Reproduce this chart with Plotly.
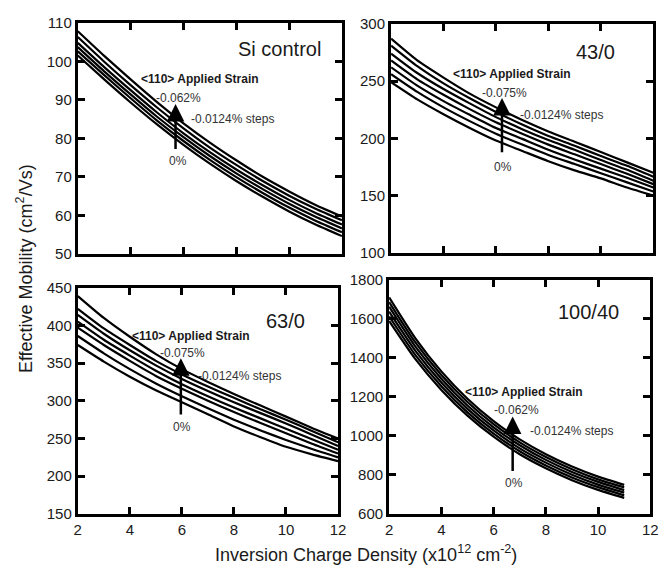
import plotly.graph_objects as go

# ---------------- data ----------------
x_full = [2, 3, 4, 5, 6, 7, 8, 9, 10, 11, 12]
x_short = [2, 3, 4, 5, 6, 7, 8, 9, 10, 11]
x_ticks = [2, 4, 6, 8, 10, 12]

# Si control (0% ... -0.062%, -0.0124% steps)
si_0 = [101.5, 95.3, 89.3, 83.6, 78.3, 73.4, 68.9, 64.8, 61.0, 57.6, 54.6]
si_1 = [102.6, 96.4, 90.4, 84.6, 79.3, 74.4, 69.9, 65.8, 62.0, 58.6, 55.6]
si_2 = [103.7, 97.4, 91.4, 85.6, 80.3, 75.4, 70.9, 66.8, 63.0, 59.6, 56.6]
si_3 = [104.8, 98.5, 92.5, 86.7, 81.3, 76.4, 71.9, 67.8, 64.0, 60.6, 57.6]
si_4 = [106.3, 99.9, 93.8, 88.0, 82.6, 77.6, 73.1, 68.9, 65.1, 61.7, 58.7]
si_5 = [107.8, 101.4, 95.3, 89.4, 83.9, 78.9, 74.3, 70.0, 66.2, 62.7, 59.7]

# 43/0 (0% ... -0.075%)
s43_0 = [249, 234, 221, 209, 198, 189, 180, 172, 165, 157, 150]
s43_1 = [256, 240.5, 227, 215, 204, 194.5, 185.5, 177.5, 169.5, 161.5, 153.5]
s43_2 = [262, 246, 232.5, 220.5, 209, 199.5, 190, 181.5, 173.5, 165.5, 157]
s43_3 = [268, 251.5, 238, 225.5, 214, 204, 194.5, 186, 177.5, 169, 160]
s43_4 = [274, 257, 243, 230.5, 218.5, 208, 198.5, 190, 181, 172.5, 163]
s43_5 = [281, 263, 248, 235, 223, 212, 202, 193.5, 184.5, 176, 166.5]
s43_6 = [287, 268, 253, 239, 227, 216, 206, 197, 188, 179, 170]

# 63/0 (0% ... -0.075%)
s63_0 = [374, 352, 332, 314, 298, 282, 266, 252, 239, 229, 220]
s63_1 = [386, 363, 342, 323, 306, 290, 275, 261, 248, 236, 225]
s63_2 = [397, 374, 353, 333, 316, 300, 285, 271, 257, 243, 230]
s63_3 = [405, 381, 360, 340, 322, 306, 291, 277, 263, 249, 235]
s63_4 = [414, 389, 367, 347, 329, 313, 298, 284, 270, 255, 240]
s63_5 = [422, 396, 374, 353, 335, 319, 304, 289, 275, 260, 245]
s63_6 = [439, 410, 385, 362, 342, 325, 309, 294, 279, 264, 250]

# 100/40 (0% ... -0.062%)
s100_0 = [1590, 1395, 1236, 1104, 996, 906, 834, 773, 723, 682]
s100_1 = [1614, 1416, 1255, 1121, 1012, 921, 848, 787, 737, 695]
s100_2 = [1638, 1438, 1274, 1139, 1028, 936, 863, 801, 750, 709]
s100_3 = [1663, 1459, 1293, 1156, 1044, 952, 877, 815, 764, 722]
s100_4 = [1687, 1481, 1312, 1174, 1060, 967, 892, 829, 777, 736]
s100_5 = [1711, 1502, 1331, 1191, 1076, 982, 906, 843, 791, 749]

panel_names = ["Si control", "43/0", "63/0", "100/40"]
strain_top = ["-0.062%", "-0.075%", "-0.075%", "-0.062%"]
step_label = "-0.0124% steps"
header_label = "&lt;110&gt; Applied Strain"

# ---------------- figure ----------------
FONT = "Liberation Sans, Arial, sans-serif"
fig = go.Figure()

panels = [
    (x_full, [si_0, si_1, si_2, si_3, si_4, si_5], "x", "y"),
    (x_full, [s43_0, s43_1, s43_2, s43_3, s43_4, s43_5, s43_6], "x2", "y2"),
    (x_full, [s63_0, s63_1, s63_2, s63_3, s63_4, s63_5, s63_6], "x3", "y3"),
    (x_short, [s100_0, s100_1, s100_2, s100_3, s100_4, s100_5], "x4", "y4"),
]
for xs, curves, xa, ya in panels:
    for c in curves:
        fig.add_trace(go.Scatter(x=xs, y=c, mode="lines", xaxis=xa, yaxis=ya,
                                 line=dict(color="black", width=2.2, shape="spline", smoothing=0.6),
                                 showlegend=False, hoverinfo="skip"))

W, H = 668, 575
OFF = 8  # page body margin offset
def dx(a, b):
    return [(a - OFF) / W, (b - OFF) / W]
def dy(top, bottom):
    return [1 - (bottom - OFF) / H, 1 - (top - OFF) / H]

axis_common = dict(showline=True, linecolor="black", linewidth=3, mirror="ticks",
                   ticks="inside", ticklen=7, tickwidth=3, tickcolor="black",
                   showgrid=False, zeroline=False,
                   tickfont=dict(family=FONT, size=15, color="#1a1a1a"))

fig.update_layout(
    xaxis=dict(domain=dx(75, 344), anchor="y", range=[2, 12], tickvals=x_ticks,
               showticklabels=False, **axis_common),
    yaxis=dict(domain=dy(14, 252), anchor="x", range=[50, 110], dtick=10, **axis_common),
    xaxis2=dict(domain=dx(394, 661), anchor="y2", range=[2, 12], tickvals=x_ticks,
                showticklabels=False, **axis_common),
    yaxis2=dict(domain=dy(15, 251), anchor="x2", range=[100, 300], dtick=50, **axis_common),
    xaxis3=dict(domain=dx(75, 340), anchor="y3", range=[2, 12], tickvals=x_ticks, **axis_common),
    yaxis3=dict(domain=dy(287, 520), anchor="x3", range=[150, 450], dtick=50, **axis_common),
    xaxis4=dict(domain=dx(392, 658), anchor="y4", range=[2, 12], tickvals=x_ticks, **axis_common),
    yaxis4=dict(domain=dy(279, 520), anchor="x4", range=[600, 1800], dtick=200, **axis_common),
    width=W, height=H,
    margin=dict(l=0, r=0, t=0, b=0),
    paper_bgcolor="white", plot_bgcolor="white",
    font=dict(family=FONT, color="#1a1a1a"),
)

ann_pos = [
    dict(name=(11.3, 103.2), head=(4.3, 95.4), top=(5.81, 90.6), arrow=(5.70, 76.8, 88.9),
         steps=(6.22, 84.9), zero=(5.78, 74.1)),
    dict(name=(10.62, 275.3), head=(4.30, 256.1), top=(6.31, 240.0), arrow=(6.23, 186.6, 235.2),
         steps=(6.84, 220.3), zero=(6.28, 174.7)),
    dict(name=(10.8, 405.4), head=(3.99, 386.2), top=(6.02, 363.7), arrow=(5.96, 280, 356.5),
         steps=(6.55, 333.0), zero=(6.02, 265.0)),
    dict(name=(10.88, 1635), head=(4.84, 1224), top=(6.86, 1133), arrow=(6.73, 812, 1100),
         steps=(7.33, 1023), zero=(6.77, 760)),
]
refs = [("x", "y"), ("x2", "y2"), ("x3", "y3"), ("x4", "y4")]
annots = []
for i, p in enumerate(ann_pos):
    xr, yr = refs[i]
    annots.append(dict(x=p["name"][0], y=p["name"][1], xref=xr, yref=yr, text=panel_names[i],
                       showarrow=False, xanchor="right", yanchor="middle",
                       font=dict(family=FONT, size=20, color="#1a1a1a")))
    annots.append(dict(x=p["head"][0], y=p["head"][1], xref=xr, yref=yr,
                       text="<b>" + header_label + "</b>",
                       showarrow=False, xanchor="left", yanchor="middle",
                       font=dict(family=FONT, size=12, color="#1a1a1a")))
    annots.append(dict(x=p["top"][0], y=p["top"][1], xref=xr, yref=yr, text=strain_top[i],
                       showarrow=False, xanchor="center", yanchor="middle",
                       font=dict(family=FONT, size=12, color="#333")))
    annots.append(dict(x=p["steps"][0], y=p["steps"][1], xref=xr, yref=yr, text=step_label,
                       showarrow=False, xanchor="left", yanchor="middle",
                       font=dict(family=FONT, size=12, color="#333")))
    annots.append(dict(x=p["zero"][0], y=p["zero"][1], xref=xr, yref=yr, text="0%",
                       showarrow=False, xanchor="center", yanchor="middle",
                       font=dict(family=FONT, size=12, color="#333")))
    ax_, ytail, yhead = p["arrow"]
    annots.append(dict(x=ax_, y=yhead, ax=ax_, ay=ytail, xref=xr, yref=yr, axref=xr, ayref=yr,
                       text="", showarrow=True, arrowhead=2, arrowsize=1.4, arrowwidth=2.5,
                       arrowcolor="black", standoff=0))

annots.append(dict(x=(21 - OFF) / W, y=1 - (267 - OFF) / H, xref="paper", yref="paper",
                   text="Effective Mobility (cm<sup>2</sup>/Vs)", textangle=-90,
                   showarrow=False, xanchor="center", yanchor="middle",
                   font=dict(family=FONT, size=18, color="#1a1a1a")))
annots.append(dict(x=(368 - OFF) / W, y=1 - (561 - OFF) / H, xref="paper", yref="paper",
                   text="Inversion Charge Density (x10<sup>12</sup> cm<sup>-2</sup>)",
                   showarrow=False, xanchor="center", yanchor="middle",
                   font=dict(family=FONT, size=18, color="#1a1a1a")))

fig.update_layout(annotations=annots)
fig.write_html("out.html")
